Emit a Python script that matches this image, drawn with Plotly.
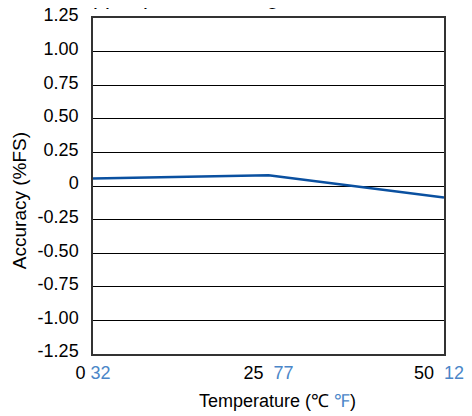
import plotly.graph_objects as go

temps_c = [0, 25, 50]
accuracy = [0.055, 0.08, -0.085]

x_tick_c = [0, 25, 50]
x_tick_f = ["32", "77", "122"]
x_gap = ["&nbsp;", "&nbsp;&nbsp;", "&nbsp;&nbsp;"]
y_ticks = [1.25, 1.0, 0.75, 0.5, 0.25, 0, -0.25, -0.5, -0.75, -1.0, -1.25]
y_labels = ["1.25", "1.00", "0.75", "0.50", "0.25", "0", "-0.25", "-0.50", "-0.75", "-1.00", "-1.25"]

BLUE = "#4a86c8"
LINE = "#0a50a0"
FONT = "Liberation Sans, Arial, sans-serif"

xt = [f"{c}{g}<span style='color:{BLUE}'>{f}</span>" for c, g, f in zip(x_tick_c, x_gap, x_tick_f)]

fig = go.Figure()
fig.add_trace(go.Scatter(x=temps_c, y=accuracy, mode="lines",
                         line=dict(color=LINE, width=2.5), showlegend=False))

fig.update_layout(
    width=464, height=408,
    margin=dict(l=85, r=28, t=10, b=62),
    paper_bgcolor="white", plot_bgcolor="white",
    font=dict(family=FONT, size=17, color="black"),
    xaxis=dict(range=[0, 50], tickvals=x_tick_c, ticktext=xt,
               tickfont=dict(size=18),
               showgrid=False, zeroline=False, automargin=False,
               ticklabeloverflow="allow", ticklabelstandoff=2,
               showline=True, linecolor="#333", linewidth=1.5, mirror=True,
               ticks="", ticklen=0),
    yaxis=dict(range=[-1.25, 1.25], tickvals=y_ticks, ticktext=y_labels,
               tickfont=dict(size=18),
               showgrid=True, gridcolor="black", gridwidth=1,
               zeroline=False, automargin=False, ticklabelstandoff=9,
               ticklabelshift=-3, ticklabeloverflow="allow",
               showline=True, linecolor="#333", linewidth=1.5, mirror=True,
               ticks="", ticklen=0),
)
# axis titles
fig.add_annotation(text=f"Temperature (℃ <span style='color:{BLUE}'>℉</span>)",
                   xref="paper", yref="paper", x=0.5256, y=-0.14,
                   xanchor="center", yanchor="middle", showarrow=False,
                   font=dict(size=18, color="black"))
fig.add_annotation(text="Accuracy (%FS)", textangle=-90,
                   xref="paper", yref="paper", x=-0.2108, y=0.455,
                   xanchor="center", yanchor="middle", showarrow=False,
                   font=dict(size=19, color="black"))
# chart title, cut off at the top edge
fig.add_annotation(text="Upper pressure range", xref="paper", yref="paper",
                   x=-0.05, y=1.021, xanchor="left", yanchor="bottom",
                   showarrow=False, font=dict(size=22, color="black"))

fig.write_html("out.html")
